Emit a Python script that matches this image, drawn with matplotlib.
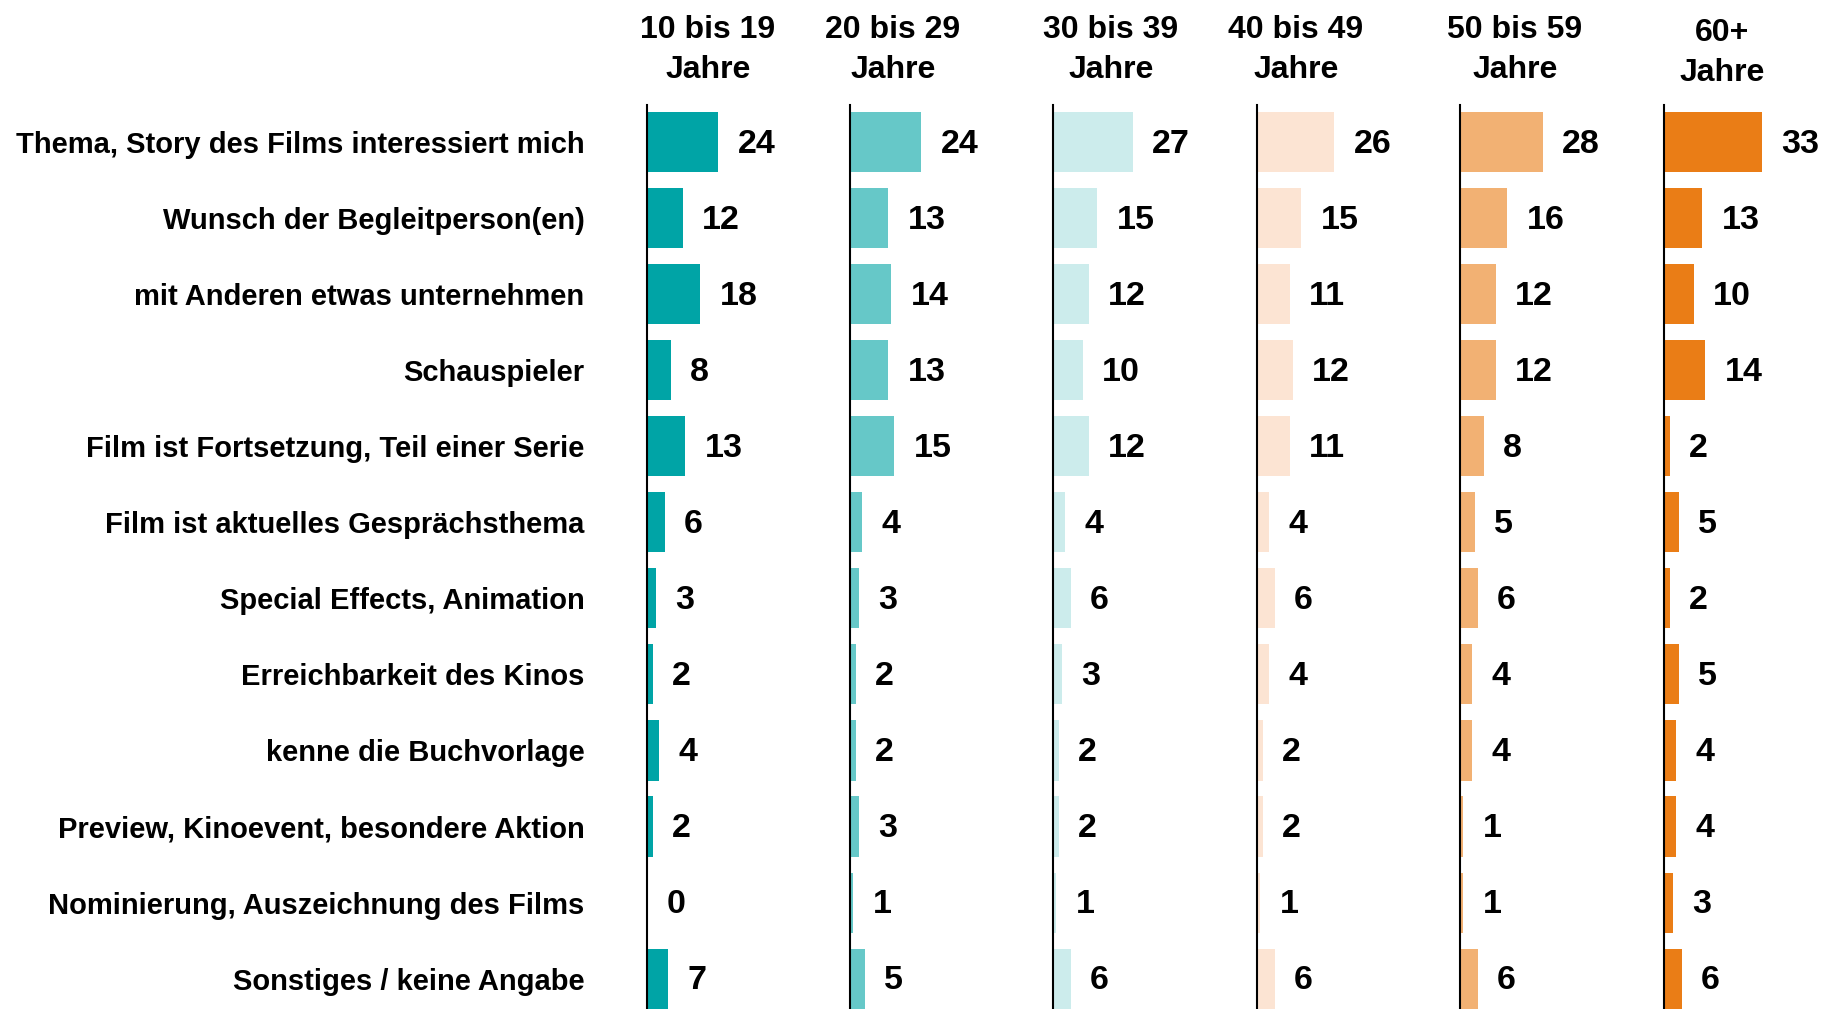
import matplotlib
matplotlib.use("Agg")
import matplotlib.pyplot as plt

# reasons for choosing a film, per age group (in %)
categories = [
    "Thema, Story des Films interessiert mich",
    "Wunsch der Begleitperson(en)",
    "mit Anderen etwas unternehmen",
    "Schauspieler",
    "Film ist Fortsetzung, Teil einer Serie",
    "Film ist aktuelles Gesprächsthema",
    "Special Effects, Animation",
    "Erreichbarkeit des Kinos",
    "kenne die Buchvorlage",
    "Preview, Kinoevent, besondere Aktion",
    "Nominierung, Auszeichnung des Films",
    "Sonstiges / keine Angabe",
]
age_groups = ["10 bis 19\nJahre", "20 bis 29\nJahre", "30 bis 39\nJahre",
              "40 bis 49\nJahre", "50 bis 59\nJahre", "60+\nJahre"]

age_10_19 = [24, 12, 18, 8, 13, 6, 3, 2, 4, 2, 0, 7]
age_20_29 = [24, 13, 14, 13, 15, 4, 3, 2, 2, 3, 1, 5]
age_30_39 = [27, 15, 12, 10, 12, 4, 6, 3, 2, 2, 1, 6]
age_40_49 = [26, 15, 11, 12, 11, 4, 6, 4, 2, 2, 1, 6]
age_50_59 = [28, 16, 12, 12, 8, 5, 6, 4, 4, 1, 1, 6]
age_60_plus = [33, 13, 10, 14, 2, 5, 2, 5, 4, 4, 3, 6]

series = [age_10_19, age_20_29, age_30_39, age_40_49, age_50_59, age_60_plus]
colors = ["#00A4A6", "#66C8C8", "#CCECEC", "#FCE4D3", "#F2B173", "#EA7D16"]

plt.rcParams["font.family"] = ["Liberation Sans", "DejaVu Sans"]
plt.rcParams["font.weight"] = "bold"

W, H = 1821, 1009
fig = plt.figure(figsize=(W / 100, H / 100), dpi=100)

# panel geometry in pixels
axis_left = [647, 850, 1053, 1257, 1460, 1664]
header_x = [708, 893, 1111, 1296, 1515, 1722]
header_y = [50, 50, 50, 50, 50, 53]
panel_w = 200
top, bottom = 105, 1009
px_per_unit = 2.96
n = len(categories)

for k, (vals, col) in enumerate(zip(series, colors)):
    ax = fig.add_axes([axis_left[k] / W, 1 - bottom / H, panel_w / W, (bottom - top) / H])
    ypos = list(range(n))
    ax.barh(ypos, vals, height=0.79, color=col)
    ax.set_xlim(0, panel_w / px_per_unit)
    ax.set_ylim(11.4, -0.49)
    for s in ["top", "right", "bottom"]:
        ax.spines[s].set_visible(False)
    ax.spines["left"].set_linewidth(1.5)
    ax.spines["left"].set_color("black")
    ax.set_xticks([])
    if k == 0:
        ax.set_yticks(ypos)
        ax.set_yticklabels(categories, fontsize=21, fontweight="bold")
        ax.tick_params(axis="y", length=0, pad=45)
    else:
        ax.set_yticks([])
    for i, v in enumerate(vals):
        ax.annotate(str(v), xy=(v, i), xytext=(14, -1.5), textcoords="offset points",
                    ha="left", va="center", fontsize=24.5, fontweight="bold",
                    annotation_clip=False)
    fig.text(header_x[k] / W, 1 - header_y[k] / H, age_groups[k], ha="center", va="center",
             fontsize=23, fontweight="bold", linespacing=1.4)

fig.savefig("out.png", dpi=100)
